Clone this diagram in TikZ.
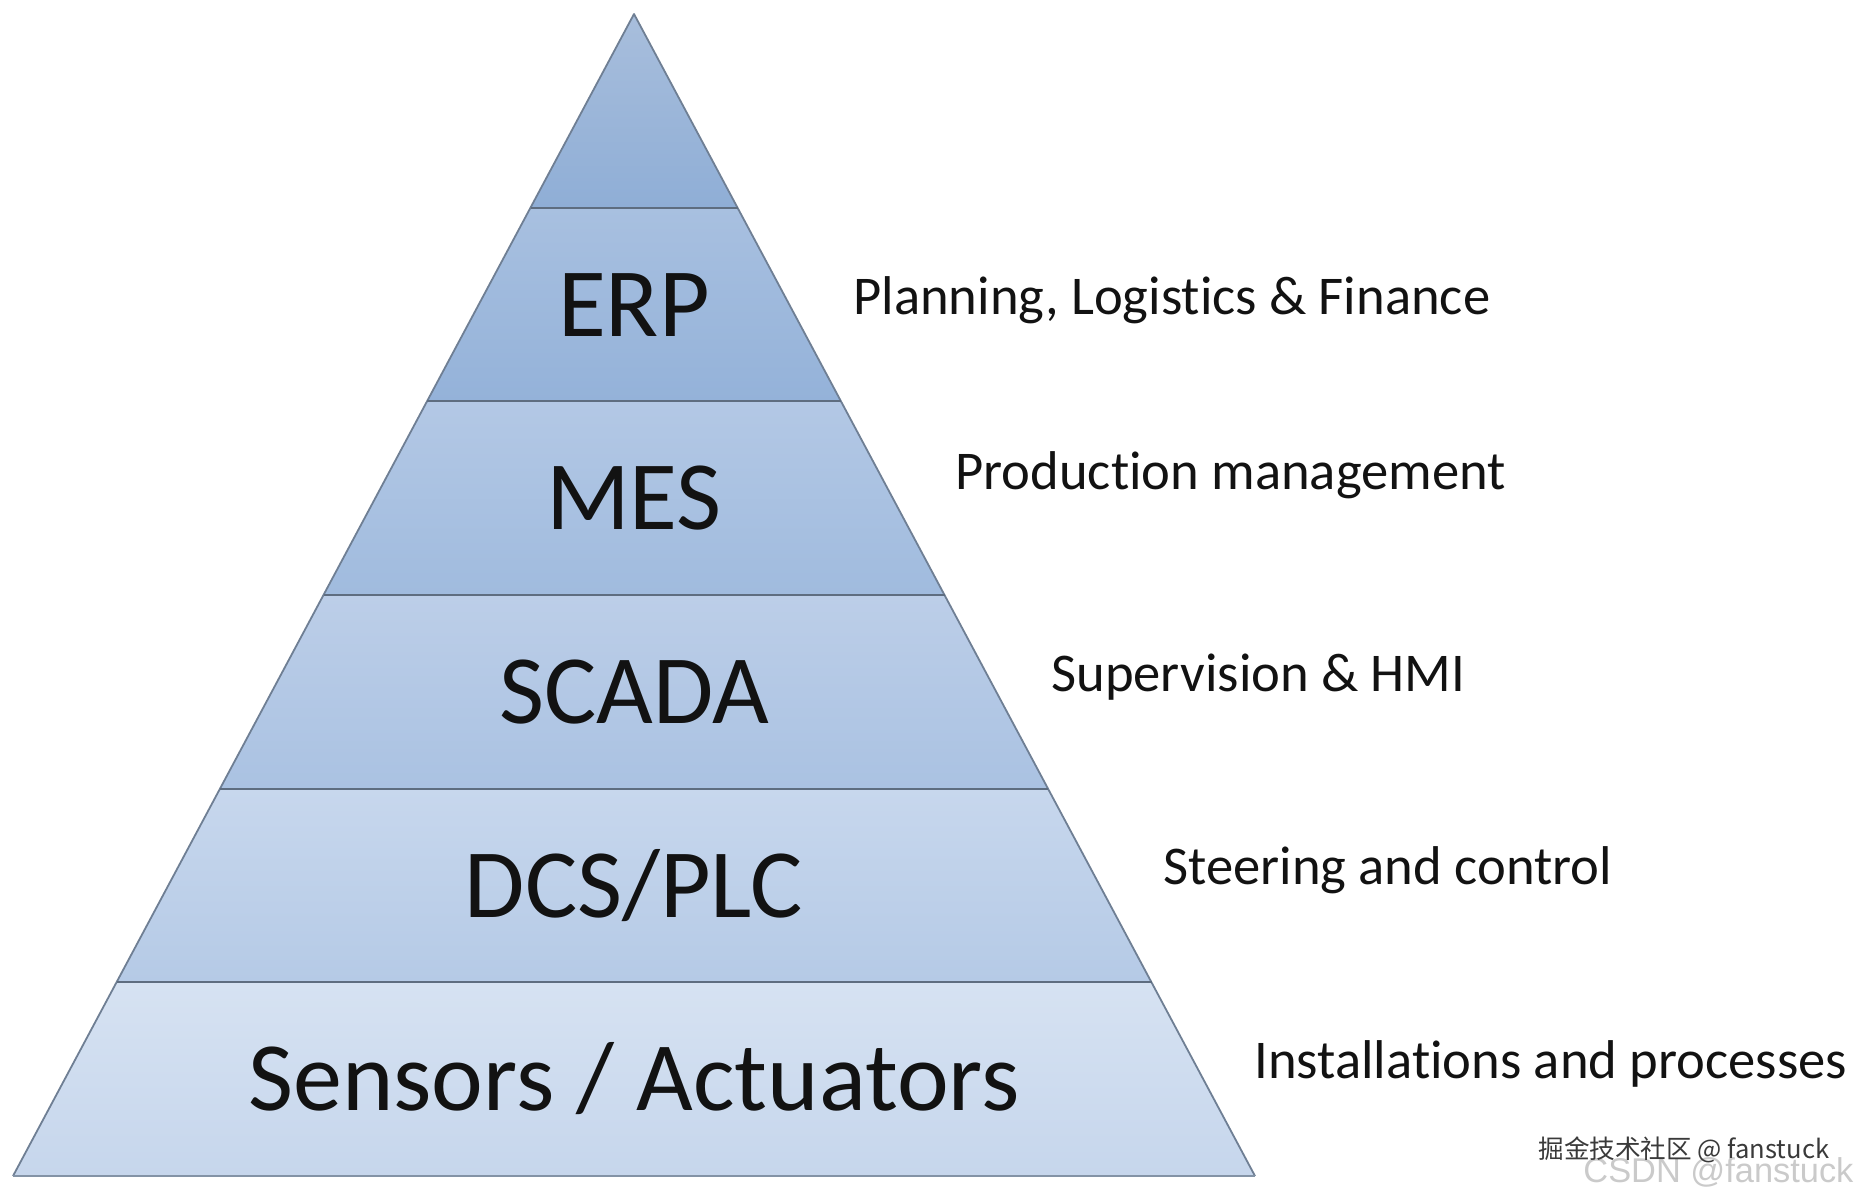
\documentclass[tikz,border=0pt]{standalone}
\usepackage{fontspec}
\setmainfont{Carlito}[Ligatures=NoCommon]
\newfontfamily\cjkfont{Noto Sans CJK SC}
\newfontfamily\wmfont{Liberation Sans}
\usetikzlibrary{calc}
\definecolor{ink}{HTML}{121212}
\definecolor{edge}{HTML}{6F7F94}
\definecolor{sep}{HTML}{5E6D80}
\definecolor{basel}{HTML}{8393A6}
\definecolor{wmgrey}{HTML}{CACACA}
\definecolor{wmdark}{HTML}{3A3A3A}
% tier colours, top / bottom of each band
\definecolor{apexT}{HTML}{A8BEDC}
\definecolor{apexB}{HTML}{8FAED6}
\definecolor{erpT}{HTML}{A8C0E0}
\definecolor{erpB}{HTML}{94B2D9}
\definecolor{mesT}{HTML}{B3C8E5}
\definecolor{mesB}{HTML}{A0BBDE}
\definecolor{scadaT}{HTML}{BCCEE8}
\definecolor{scadaB}{HTML}{AAC2E2}
\definecolor{dcsT}{HTML}{C7D7ED}
\definecolor{dcsB}{HTML}{B5CAE6}
\definecolor{sensT}{HTML}{D6E2F2}
\definecolor{sensB}{HTML}{C6D6EC}
\def\W{1858}
\def\H{1195}
\def\apx{634}
\def\apy{14}
\def\halfB{621}
\def\pyrH{1162}
\tikzset{
  level/.style={font=\fontsize{49}{52}\selectfont,text=ink,inner sep=0pt,
    text height=31.6pt,text depth=0pt},
  aside/.style={font=\fontsize{27.3}{31}\selectfont,text=ink,inner sep=0pt,anchor=base west},
}

\begin{document}
\begin{tikzpicture}[x=0.5pt,y=-0.5pt]
\useasboundingbox (0,0) rectangle (\W,\H);

% ---------------------------------------------------------------- band corners and centres
\foreach \k in {0,...,6}{
  \coordinate (L\k) at ({\apx-\halfB*\k/6},{\apy+\pyrH*\k/6});
  \coordinate (R\k) at ({\apx+\halfB*\k/6},{\apy+\pyrH*\k/6});
  \coordinate (M\k) at (\apx,{\apy+\pyrH*(\k+0.5)/6});
}

% ---------------------------------------------------------------- bands
\foreach \k/\j/\ct/\cb in {0/1/apexT/apexB,1/2/erpT/erpB,2/3/mesT/mesB,
                           3/4/scadaT/scadaB,4/5/dcsT/dcsB,5/6/sensT/sensB}
  {\shade[top color=\ct,bottom color=\cb] (L\k) -- (R\k) -- (R\j) -- (L\j) -- cycle;}
\draw[edge,line width=0.9pt,line join=round] (L6) -- (L0) -- (R6);
\foreach \k in {1,...,5} {\draw[sep,line width=1.1pt] (L\k) -- (R\k);}
\draw[basel,line width=1.3pt] (L6) -- (R6);

% ---------------------------------------------------------------- level names
\node[level] (erp)   at (M1) {ERP};
\node[level] (mes)   at (M2) {MES};
\node[level] (scada) at (M3) {SCADA};
\node[level] (dcs)   at (M4) {DCS/PLC};
\node[level] (sens)  at (M5) {Sensors / Actuators};

% ---------------------------------------------------------------- descriptions
\node[aside] (plan)   at (853,314)  {Planning, Logistics \& Finance};
\node[aside] (prod)   at (955,489)  {Production management};
\node[aside] (superv) at (1051,691) {Supervision \& HMI};
\node[aside] (steer)  at (1163,884) {Steering and control};
\node[aside] (inst)   at (1254,1078) {Installations and processes};

% ---------------------------------------------------------------- watermarks
\node[anchor=base west,inner sep=0pt,text=wmgrey,font=\wmfont\fontsize{17.2}{17}\selectfont]
  (csdn) at (1583,1182) {CSDN @fanstuck};
\node[anchor=base west,inner sep=0pt,text=wmdark,font=\cjkfont\fontsize{12.8}{13}\selectfont]
  (juejin) at (1538,1158) {掘金技术社区 @ fanstuck};

\end{tikzpicture}
\end{document}
